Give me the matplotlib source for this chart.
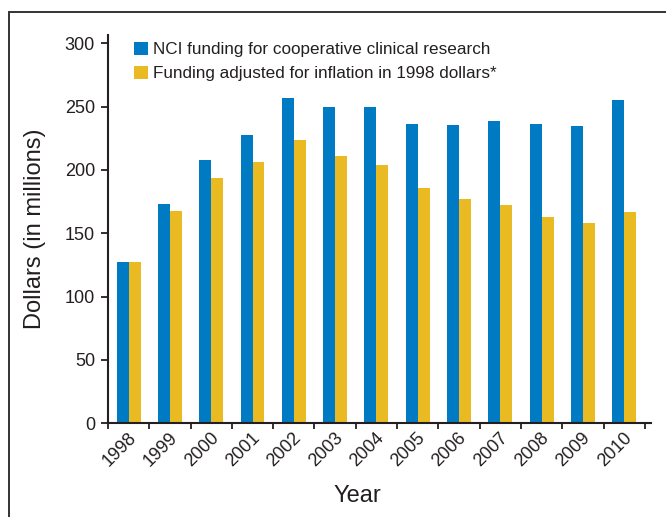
import matplotlib
matplotlib.use("Agg")
import matplotlib.pyplot as plt
import matplotlib.transforms as mtransforms
from matplotlib.patches import Rectangle, Patch
import numpy as np

plt.rcParams['font.family'] = ['Liberation Sans', 'DejaVu Sans']

# datos
years = ["1998", "1999", "2000", "2001", "2002", "2003", "2004",
         "2005", "2006", "2007", "2008", "2009", "2010"]
nci_funding = [127, 173, 208, 227.5, 257, 250, 249.5,
               236, 235.5, 239, 236, 235, 255]
adjusted_1998 = [127, 167.5, 194, 206, 224, 211, 204,
                 186, 177, 172, 163, 158, 167]
labels = ["NCI funding for cooperative clinical research",
          "Funding adjusted for inflation in 1998 dollars*"]

blue = "#007BC3"
yellow = "#E9BA21"
ink = "#231F20"

fig = plt.figure(figsize=(6.66, 5.17), dpi=100)
ax = fig.add_axes([108 / 666, 1 - 423.3 / 517, 543 / 666, 388.3 / 517])

# marco exterior
fig.patches.append(Rectangle((9 / 666, -0.1), 1.2, 1 - 12 / 517 + 0.1,
                             transform=fig.transFigure, fill=False,
                             edgecolor="#333333", linewidth=1.4))

x = np.arange(len(years))
w = 0.29
ax.bar(x - w / 2, nci_funding, w, color=blue, linewidth=0)
ax.bar(x + w / 2, adjusted_1998, w, color=yellow, linewidth=0)

ax.set_xlim(-0.5, 12.65)
ax.set_ylim(0, 306.5)

for s in ["top", "right"]:
    ax.spines[s].set_visible(False)
for s in ["left", "bottom"]:
    ax.spines[s].set_color(ink)
    ax.spines[s].set_linewidth(1.5)

ax.set_yticks([0, 50, 100, 150, 200, 250, 300])
ax.tick_params(axis="y", length=5, width=1.3, color=ink, pad=4.3,
               labelsize=13, labelcolor=ink)

ax.set_xticks(x)
ax.set_xticks(np.arange(-0.5, 13, 1), minor=True)
ax.tick_params(axis="x", which="major", length=0, pad=8.5,
               labelsize=13, labelcolor=ink)
ax.tick_params(axis="x", which="minor", length=4.5, width=1.3, color=ink)
ax.set_xticklabels(years, rotation=45, ha="right", va="center",
                   rotation_mode="anchor")
offset = mtransforms.ScaledTranslation(5 / 100, 0, fig.dpi_scale_trans)
for lab in ax.get_xticklabels():
    lab.set_transform(lab.get_transform() + offset)

ax.set_xlabel("Year", fontsize=17, color=ink, va="center")
ax.xaxis.set_label_coords(0.46, -0.188)
ax.set_ylabel("Dollars (in millions)", fontsize=17, color=ink, va="center")
ax.yaxis.set_label_coords(-0.134, 0.5)

handles = [Patch(facecolor=blue, edgecolor="none"),
           Patch(facecolor=yellow, edgecolor="none")]
ax.legend(handles, labels, loc="upper left",
          bbox_to_anchor=(134 / 666, 1 - 42 / 517),
          bbox_transform=fig.transFigure, frameon=False, fontsize=12.3,
          handlelength=0.8, handleheight=0.8, handletextpad=0.3,
          labelspacing=0.48, borderpad=0, borderaxespad=0,
          labelcolor=ink)

fig.savefig("out.png", dpi=100)
